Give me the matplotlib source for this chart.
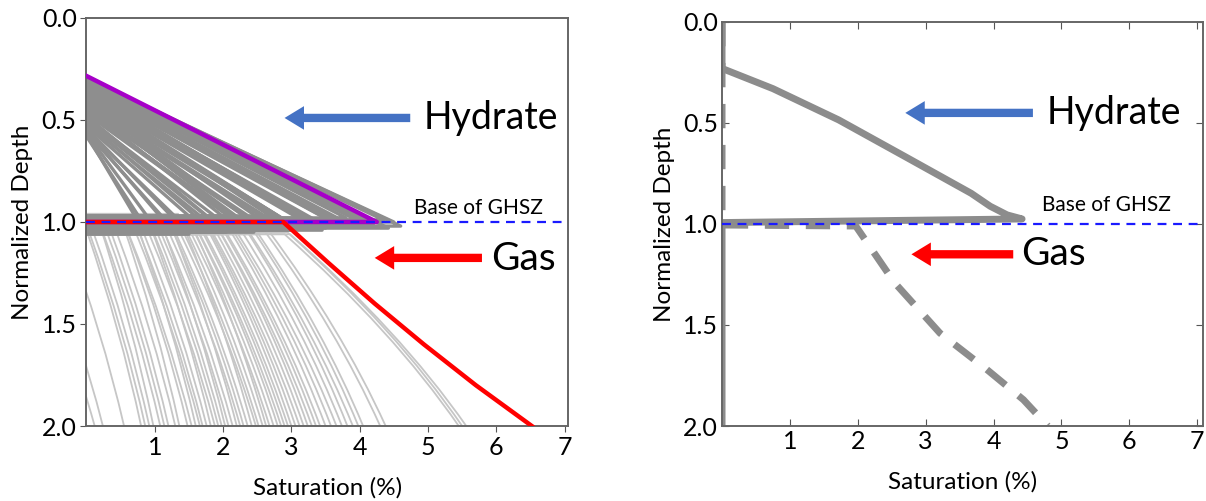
import numpy as np
import matplotlib
matplotlib.use("Agg")
import matplotlib.pyplot as plt
from matplotlib.path import Path
from matplotlib.patches import PathPatch

plt.rcParams['font.family'] = ['Lato', 'DejaVu Sans']

# ---- left panel : ensemble of profiles ----
# hydrate profiles: depth where hydrate starts, max saturation at base, base depth
hyd_top = [0.295, 0.30, 0.30, 0.305, 0.31, 0.31, 0.315, 0.32, 0.32, 0.325, 0.33, 0.33,
           0.34, 0.34, 0.345, 0.35, 0.35, 0.36, 0.36, 0.37, 0.37, 0.38, 0.38, 0.39,
           0.39, 0.40, 0.40, 0.41, 0.41, 0.42, 0.42, 0.43, 0.43, 0.44, 0.44, 0.45,
           0.46, 0.46, 0.47, 0.48, 0.49, 0.50, 0.51, 0.52, 0.53, 0.54, 0.55, 0.55,
           0.56, 0.565, 0.57, 0.58]
hyd_max = [4.60, 4.50, 4.35, 4.20, 4.42, 4.05, 3.95, 4.15, 3.80, 3.70, 3.90, 3.55,
           3.75, 3.45, 3.60, 3.30, 3.50, 3.40, 3.15, 3.30, 3.00, 3.20, 2.90, 3.05,
           2.80, 2.95, 2.65, 2.85, 2.55, 2.75, 2.45, 2.60, 2.35, 2.50, 2.25, 2.40,
           2.30, 2.10, 2.20, 2.05, 1.95, 1.90, 1.80, 1.70, 1.60, 1.50, 1.35, 1.20,
           1.10, 0.95, 0.85, 0.78]
hyd_base = [1.02, 1.00, 0.99, 1.01, 1.03, 1.00, 0.99, 1.01, 0.98, 1.00, 1.02, 0.99,
            1.01, 1.04, 1.00, 0.99, 1.03, 1.00, 0.98, 1.01, 1.04, 1.00, 0.99, 1.02,
            0.97, 1.00, 1.01, 0.99, 1.03, 1.00, 1.05, 0.98, 1.01, 1.00, 1.04, 0.99,
            1.02, 0.97, 1.00, 1.05, 0.99, 1.01, 1.03, 0.98, 1.00, 1.06, 0.99, 1.02,
            0.97, 1.00, 1.05, 0.98]

# free gas profiles: depth of first gas, saturation there, saturation at depth 2.0
gas_top = [1.06, 1.05, 1.06, 1.04, 1.06, 1.05, 0.97, 1.06, 1.05, 1.04, 1.06, 0.98,
           1.05, 1.06, 0.96, 1.05, 1.06, 1.04, 0.97, 1.06, 1.05, 1.04, 0.98, 1.06,
           1.05, 0.97, 1.06, 1.04, 1.05, 0.96, 1.06, 1.05, 1.04, 0.98, 1.06, 1.05,
           1.04, 1.06, 1.05, 1.06, 1.04, 1.05, 1.06, 1.05, 1.04, 1.06, 1.05, 1.06,
           1.04, 1.05, 1.06, 1.05, 1.04, 1.06, 1.05, 1.06, 1.05, 1.04, 1.06, 1.05,
           1.06]
gas_start = [-0.90, -0.70, -0.30, 0.00, 0.05, 0.10, 0.15, 0.25, 0.30, 0.35, 0.45, 0.50,
             0.60, 0.62, 0.68, 0.72, 0.78, 0.82, 0.88, 0.92, 0.98, 1.02, 1.06, 1.10,
             1.14, 1.18, 1.22, 1.26, 1.30, 1.34, 1.38, 1.42, 1.46, 1.50, 1.54, 1.58,
             1.62, 1.66, 1.70, 1.74, 1.78, 1.82, 1.86, 1.90, 1.94, 1.98, 2.02, 2.06,
             2.10, 2.16, 2.22, 2.28, 2.34, 2.40, 2.46, 2.52, 2.62, 2.66, 2.90, 2.94,
             2.98]
gas_end = [0.12, 0.24, 0.55, 0.80, 0.86, 0.92, 0.98, 1.08, 1.14, 1.20, 1.30, 1.36,
           1.48, 1.54, 1.60, 1.66, 1.70, 1.76, 1.82, 1.88, 1.93, 1.98, 2.03, 2.08,
           2.14, 2.20, 2.25, 2.30, 2.36, 2.42, 2.48, 2.52, 2.58, 2.63, 2.68, 2.74,
           2.80, 2.85, 2.90, 2.95, 3.00, 3.06, 3.12, 3.18, 3.24, 3.30, 3.36, 3.42,
           3.50, 3.58, 3.66, 3.74, 3.82, 3.90, 3.98, 4.05, 4.30, 4.38, 5.45, 5.50,
           5.56]

# highlighted realisation
best_hyd_sat = [0.0, 4.25, 0.0]
best_hyd_depth = [0.284, 1.0, 1.0]
best_gas_sat = [0.0, 2.88, 3.54, 4.22, 4.94, 5.70, 6.52]
best_gas_depth = [1.0, 1.0, 1.2, 1.4, 1.6, 1.8, 2.0]

# ---- right panel : single model ----
r_hyd_sat = [0.0, 0.0, 0.75, 1.72, 2.70, 3.67, 3.95, 4.20, 4.42, 0.0, 0.0]
r_hyd_depth = [0.0, 0.23, 0.33, 0.485, 0.667, 0.848, 0.912, 0.955, 0.975, 0.993, 2.0]
r_gas_sat = [0.0, 0.0, 1.97, 2.54, 3.21, 3.90, 4.44, 4.80]
r_gas_depth = [0.0, 1.005, 1.01, 1.29, 1.54, 1.72, 1.87, 2.0]

BGHSZ = 1.0
yticks = [0.0, 0.5, 1.0, 1.5, 2.0]
xticks = [1, 2, 3, 4, 5, 6, 7]

fig = plt.figure(figsize=(12.06, 5.01), dpi=100)
ax1 = fig.add_axes([0.0717, 0.1497, 0.3993, 0.8144])
ax2 = fig.add_axes([0.5987, 0.1497, 0.3985, 0.8064])


def style_axes(ax, inner, xmax):
    ax.set_xlim(0, xmax)
    ax.set_ylim(2.0, 0.0)
    ax.set_xticks(xticks)
    ax.set_yticks(yticks)
    ax.set_yticklabels(["%.1f" % v for v in yticks])
    ax.tick_params(labelsize=18, length=4, color="#555555", pad=3)
    if inner:
        ax.tick_params(direction="in", top=True, right=True, length=5)
    ax.set_xlabel("Saturation (%)", fontsize=17.5, labelpad=13)
    ax.set_ylabel("Normalized Depth", fontsize=17.5, labelpad=6)
    for s in ax.spines.values():
        s.set_color("#666666")
        s.set_linewidth(1.4)


# left: gas ensemble (light gray bezier curves)
for top, g0, g1 in zip(gas_top, gas_start, gas_end):
    verts = [(0.0, top), (g0, top), (g0 + 0.62 * (g1 - g0), (top + 2.0) / 2), (g1, 2.0)]
    codes = [Path.MOVETO, Path.LINETO, Path.CURVE3, Path.CURVE3]
    ax1.add_patch(PathPatch(Path(verts, codes), facecolor="none",
                            edgecolor="#c6c6c6", lw=1.3, zorder=1))

# left: hydrate ensemble
for d0, smax, db in zip(hyd_top, hyd_max, hyd_base):
    ax1.plot([0.0, smax, 0.0], [d0, db, db], color="#8e8e8e", lw=2.4, zorder=2)

ax1.plot(best_hyd_sat, best_hyd_depth, color="#a600c8", lw=3.2, zorder=3)
ax1.plot(best_gas_sat, best_gas_depth, color="#ff0000", lw=3.2, zorder=4)
ax1.axhline(BGHSZ, color="#1a1aff", lw=1.6, ls=(0, (4, 3)), zorder=5)

# right panel profiles
ax2.plot(r_hyd_sat, r_hyd_depth, color="#8c8c8c", lw=5, solid_capstyle="round",
         solid_joinstyle="round", zorder=2)
ax2.plot(r_gas_sat, r_gas_depth, color="#8c8c8c", lw=5, ls=(0, (3.5, 2.4)), zorder=2)
ax2.axhline(BGHSZ, color="#1a1aff", lw=1.6, ls=(0, (4, 3)), zorder=5)

style_axes(ax1, False, 7.05)
style_axes(ax2, True, 7.08)

# annotations
arrow_kw = dict(arrowstyle="simple,head_length=0.7,head_width=0.85,tail_width=0.3",
                shrinkA=0, shrinkB=0, mutation_scale=20, lw=0)

ax1.annotate("", xy=(2.9, 0.49), xytext=(4.74, 0.49),
             arrowprops=dict(color="#4472c4", **arrow_kw))
ax1.annotate("", xy=(4.22, 1.176), xytext=(5.79, 1.176),
             arrowprops=dict(color="#ff0000", **arrow_kw))
ax1.text(4.93, 0.49, "Hydrate", fontsize=27, va="center", ha="left")
ax1.text(5.92, 1.18, "Gas", fontsize=28, va="center", ha="left")
ax1.text(4.8, 0.93, "Base of GHSZ", fontsize=15, va="center", ha="left")

ax2.annotate("", xy=(2.7, 0.45), xytext=(4.58, 0.45),
             arrowprops=dict(color="#4472c4", **arrow_kw))
ax2.annotate("", xy=(2.79, 1.15), xytext=(4.29, 1.15),
             arrowprops=dict(color="#ff0000", **arrow_kw))
ax2.text(4.78, 0.45, "Hydrate", fontsize=27, va="center", ha="left")
ax2.text(4.4, 1.15, "Gas", fontsize=28, va="center", ha="left")
ax2.text(4.72, 0.905, "Base of GHSZ", fontsize=15, va="center", ha="left")

fig.savefig("out.png", dpi=100)
